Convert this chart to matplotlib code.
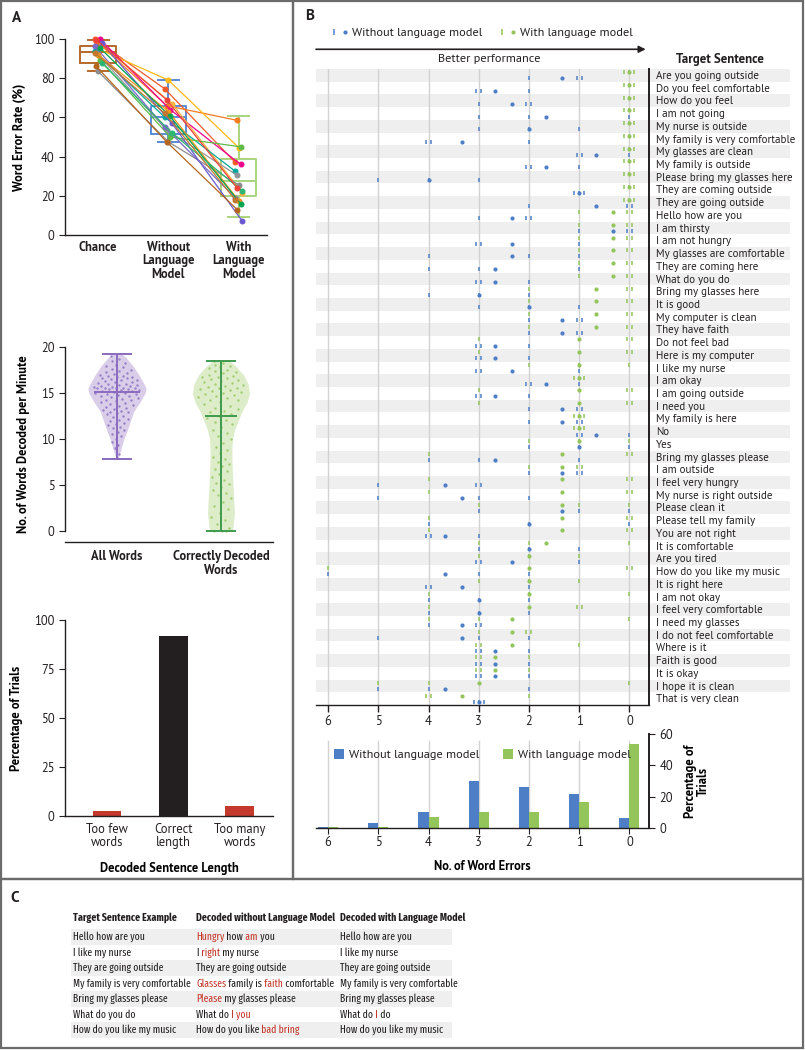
import numpy as np
import matplotlib
matplotlib.use('Agg')
import matplotlib.pyplot as plt
import matplotlib.transforms as mtransforms
from matplotlib.patches import Rectangle
from matplotlib.lines import Line2D
from matplotlib.legend_handler import HandlerTuple

SANS = ['PT Sans', 'Lato', 'DejaVu Sans']
NARROW = ['Fira Sans Extra Condensed', 'PT Sans Narrow', 'Roboto Condensed', 'DejaVu Sans']
plt.rcParams['font.family'] = SANS
plt.rcParams['font.size'] = 8.5
plt.rcParams['axes.linewidth'] = 1.0
plt.rcParams['axes.edgecolor'] = '#231f20'
plt.rcParams['xtick.color'] = '#231f20'
plt.rcParams['ytick.color'] = '#231f20'
plt.rcParams['text.color'] = '#231f20'

# ---------------- data ----------------
# Panel A, top: word error rate per participant session
wer_cats = ['Chance', 'Without\nLanguage\nModel', 'With\nLanguage\nModel']
wer_chance = [100, 99, 95, 100, 97, 94, 93, 83.5, 89.5, 98, 96.5, 86, 92, 95.5, 88, 93, 99.5]
wer_nolm = [74.5, 66, 79, 64, 67, 60, 53.5, 47.5, 50, 57, 55, 47.5, 63, 60.5, 52, 62, 69]
wer_lm = [37, 58.5, 44.5, 36, 21.5, 32.5, 30.5, 25.5, 45, 7, 19, 13, 17.5, 16, 22.5, 18, 24]
box_q1 = [87.7, 51.6, 20.1]
box_med = [93.2, 60.1, 27.6]
box_q3 = [96.2, 65.9, 38.7]
box_lo = [83.6, 47.5, 9.0]
box_hi = [99.5, 79.2, 60.5]

# Panel A, middle: decoding rate (words per minute)
rate_cats = ['All Words', 'Correctly Decoded\nWords']
rate_all = [19.0, 18.7, 18.5, 18.3, 18.1, 17.9, 17.8, 17.6, 17.5, 17.4, 17.3, 17.2, 17.1, 17.0,
            16.9, 16.9, 16.8, 16.7, 16.6, 16.6, 16.5, 16.4, 16.4, 16.3, 16.2, 16.2, 16.1, 16.0,
            16.0, 15.9, 15.9, 15.8, 15.8, 15.7, 15.7, 15.6, 15.6, 15.5, 15.5, 15.5, 15.4, 15.4,
            15.3, 15.3, 15.2, 15.2, 15.1, 15.0, 15.0, 14.9, 14.9, 14.8, 14.7, 14.7, 14.6, 14.5,
            14.4, 14.3, 14.2, 14.1, 14.0, 13.9, 13.8, 13.7, 13.6, 13.5, 13.4, 13.3, 13.2, 13.1,
            13.0, 12.9, 12.8, 12.7, 12.5, 12.4, 12.2, 12.1, 12.0, 11.8, 11.7, 11.5, 11.3, 11.2,
            11.0, 10.8, 10.6, 10.3, 10.0, 9.7, 9.4, 9.0, 8.4, 8.0]
rate_correct = [18.5, 18.3, 18.1, 17.9, 17.8, 17.7, 17.5, 17.4, 17.3, 17.2, 17.0, 16.9, 16.8,
                16.7, 16.6, 16.5, 16.4, 16.3, 16.2, 16.1, 16.0, 15.9, 15.8, 15.7, 15.6, 15.5,
                15.4, 15.3, 15.2, 15.1, 15.0, 14.9, 14.8, 14.7, 14.6, 14.5, 14.3, 14.2, 14.0,
                13.8, 13.6, 13.4, 13.3, 13.1, 12.9, 12.7, 12.5, 12.3, 12.1, 11.9, 11.6, 11.3,
                11.0, 10.7, 10.4, 10.0, 9.6, 9.2, 8.8, 8.5, 8.1, 7.8, 7.5, 7.3, 7.1, 6.8, 6.5,
                6.2, 5.9, 5.6, 5.3, 5.1, 4.8, 4.5, 4.2, 4.0, 3.6, 3.2, 2.8, 2.4, 2.0, 1.6, 1.2,
                0.8, 0.4, 0.0, 0.0, 0.0]
rate_summary = [(7.9, 15.1, 19.2), (0.0, 12.5, 18.5)]  # min, centre line, max
# violin outlines: level, half-width
viol_all_y = [7.9, 9, 10, 11, 12, 13, 14, 15, 15.5, 16, 17, 18, 18.8, 19.3]
viol_all_w = [0.01, 0.04, 0.065, 0.10, 0.13, 0.16, 0.22, 0.27, 0.28, 0.26, 0.21, 0.15, 0.09, 0.04]
viol_cor_y = [0, 1, 2, 4, 6, 8, 9, 10, 11, 12, 13, 14, 15, 16, 17, 18, 18.6]
viol_cor_w = [0.11, 0.12, 0.13, 0.12, 0.11, 0.105, 0.105, 0.11, 0.13, 0.165, 0.2, 0.25, 0.275,
              0.26, 0.215, 0.135, 0.07]

# Panel A, bottom: decoded sentence length
len_cats = ['Too few\nwords', 'Correct\nlength', 'Too many\nwords']
len_pct = [2.5, 91.8, 5.3]

# Panel B: word errors per trial for each target sentence
sentences = ['Are you going outside', 'Do you feel comfortable', 'How do you feel',
             'I am not going', 'My nurse is outside', 'My family is very comfortable',
             'My glasses are clean', 'My family is outside', 'Please bring my glasses here',
             'They are coming outside', 'They are going outside', 'Hello how are you',
             'I am thirsty', 'I am not hungry', 'My glasses are comfortable',
             'They are coming here', 'What do you do', 'Bring my glasses here', 'It is good',
             'My computer is clean', 'They have faith', 'Do not feel bad',
             'Here is my computer', 'I like my nurse', 'I am okay', 'I am going outside',
             'I need you', 'My family is here', 'No', 'Yes', 'Bring my glasses please',
             'I am outside', 'I feel very hungry', 'My nurse is right outside',
             'Please clean it', 'Please tell my family', 'You are not right',
             'It is comfortable', 'Are you tired', 'How do you like my music',
             'It is right here', 'I am not okay', 'I feel very comfortable',
             'I need my glasses', 'I do not feel comfortable', 'Where is it', 'Faith is good',
             'It is okay', 'I hope it is clean', 'That is very clean']
errors_nolm = [[2, 1, 1], [3, 3, 2], [3, 2, 2], [3, 2, 0], [3, 2, 1], [4, 4, 2], [1, 1, 0],
               [2, 2, 1], [5, 4, 3], [1, 1, 1], [2, 0, 0], [3, 2, 2], [1, 0, 0], [3, 3, 1],
               [4, 2, 1], [4, 3, 1], [3, 3, 2], [4, 3, 2], [3, 2, 1], [2, 1, 1], [2, 1, 1],
               [3, 3, 2], [3, 3, 2], [3, 3, 1], [2, 2, 1], [3, 3, 2], [2, 1, 1], [2, 1, 1],
               [1, 1, 0], [2, 1, 0], [4, 3, 1], [2, 1, 1], [5, 3, 3], [5, 3, 2], [3, 1, 0],
               [4, 2, 0], [4, 4, 3], [3, 2, 1], [3, 3, 1], [6, 3, 2], [4, 4, 2], [4, 3, 2],
               [4, 3, 2], [4, 3, 3], [5, 3, 2], [3, 3, 2], [3, 3, 2], [3, 3, 2], [5, 4, 2],
               [3, 3, 3]]
errors_lm = [[0, 0, 0], [0, 0, 0], [0, 0, 0], [0, 0, 0], [0, 0, 0], [0, 0, 0], [0, 0, 0],
             [0, 0, 0], [0, 0, 0], [0, 0, 0], [0, 0, 0], [1, 0, 0], [1, 0, 0], [1, 0, 0],
             [1, 0, 0], [1, 0, 0], [1, 0, 0], [2, 0, 0], [2, 0, 0], [2, 0, 0], [2, 0, 0],
             [3, 0, 0], [3, 0, 0], [2, 1, 0], [1, 1, 1], [3, 0, 0], [3, 0, 0], [1, 1, 1],
             [1, 1, 1], [2, 1, 0], [4, 0, 0], [2, 1, 1], [4, 0, 0], [4, 0, 0], [3, 1, 0],
             [4, 0, 0], [4, 0, 0], [3, 2, 0], [3, 2, 1], [6, 0, 0], [3, 2, 1], [4, 2, 0],
             [4, 1, 1], [4, 3, 0], [3, 2, 2], [3, 3, 1], [3, 3, 2], [3, 3, 2], [5, 4, 0],
             [4, 4, 2]]

# Panel B, bottom: distribution of word errors
n_errors = [6, 5, 4, 3, 2, 1, 0]
pct_nolm = [0.4, 3.2, 10.4, 30.3, 25.9, 21.8, 6.4]
pct_lm = [0.4, 0.4, 7.2, 10.4, 10.4, 16.5, 53.4]

# Panel C: examples
col_titles = ['Target Sentence Example', 'Decoded without Language Model',
              'Decoded with Language Model']
ex_target = ['Hello how are you', 'I like my nurse', 'They are going outside',
             'My family is very comfortable', 'Bring my glasses please', 'What do you do',
             'How do you like my music']
ex_nolm = ['Hungry how am you', 'I right my nurse', 'They are going outside',
           'Glasses family is faith comfortable', 'Please my glasses please', 'What do I you',
           'How do you like bad bring']
ex_nolm_wrong = [[0, 2], [1], [], [0, 3], [0], [2, 3], [4, 5]]
ex_lm = ['Hello how are you', 'I like my nurse', 'They are going outside',
         'My family is very comfortable', 'Bring my glasses please', 'What do I do',
         'How do you like my music']
ex_lm_wrong = [[], [], [], [], [], [2], []]

# ---------------- style ----------------
BLUE = '#4e7fc6'
GREEN = '#93c55b'
PURPLE = '#8a6bbf'
DKGREEN = '#3e9b4f'
RED = '#c4392b'
BLACK = '#231f20'
SHADE = '#efefef'
GRID = '#d2d2d2'
part_colors = ['#f15a29', '#f47b20', '#fdb913', '#ec008c', '#fbb040', '#00a99d', '#939598',
               '#8c8c8c', '#5dbb46', '#6a5acd', '#7b68c8', '#b5651d', '#f7941d', '#00a651',
               '#2bb673', '#c2782d', '#ef4136']
box_colors = ['#b5682b', '#5a8bd5', '#a9d47d']

W, H = 805, 1050


def rect(l, t, r, b):
    return [l / W, 1 - b / H, (r - l) / W, (b - t) / H]


def clean(ax, keep=('left', 'bottom')):
    for s in ['left', 'right', 'top', 'bottom']:
        ax.spines[s].set_visible(s in keep)


fig = plt.figure(figsize=(W / 100, H / 100), dpi=100)

for (l, t, r, b) in [(1, 1, 293, 879), (293, 1, 803, 879), (1, 879, 803, 1048)]:
    fig.add_artist(Rectangle((l / W, 1 - b / H), (r - l) / W, (b - t) / H,
                             transform=fig.transFigure, fill=False,
                             edgecolor='#6b6b6b', lw=1.6))
fig.text(12 / W, 1 - 18 / H, 'A', fontsize=11, fontweight='bold', va='center')
fig.text(305 / W, 1 - 16 / H, 'B', fontsize=11, fontweight='bold', va='center')
fig.text(10 / W, 1 - 898 / H, 'C', fontsize=11, fontweight='bold', va='center')

# ---------------- Panel A top ----------------
ax1 = fig.add_axes(rect(65, 39, 267, 235))
stats = [dict(med=m, q1=a, q3=b, whislo=lo, whishi=hi, fliers=[])
         for a, m, b, lo, hi in zip(box_q1, box_med, box_q3, box_lo, box_hi)]
bp = ax1.bxp(stats, positions=[0, 1, 2], widths=0.5, capwidths=0.3, showfliers=False)
for i, c in enumerate(box_colors):
    for art in [bp['boxes'][i], bp['medians'][i], bp['whiskers'][2 * i],
                bp['whiskers'][2 * i + 1], bp['caps'][2 * i], bp['caps'][2 * i + 1]]:
        art.set_color(c)
        art.set_linewidth(1.4)
        art.set_zorder(1)
for k, (a, b, c) in enumerate(zip(wer_chance, wer_nolm, wer_lm)):
    dx = ((k % 5) - 2) * 0.025
    ax1.plot(np.arange(3) + dx, [a, b, c], '-o', color=part_colors[k], lw=0.9, ms=3.3,
             clip_on=False, zorder=3)
ax1.set_xlim(-0.47, 2.4)
ax1.set_ylim(0, 100)
ax1.set_yticks(range(0, 101, 20))
ax1.set_xticks(range(3))
ax1.set_xticklabels(wer_cats, fontweight='bold', fontsize=9, linespacing=1.05)
ax1.tick_params(axis='x', length=0, pad=4)
ax1.tick_params(axis='y', length=4, labelsize=9)
ax1.set_ylabel('Word Error Rate (%)', fontweight='bold', fontsize=9, labelpad=6)
clean(ax1)

# ---------------- Panel A middle ----------------
ax2 = fig.add_axes(rect(65, 347, 273, 542))
golden = 0.6180339887
for pos, vals, vy, vw, fc, lc, dc, summ in [
        (0, rate_all, viol_all_y, viol_all_w, '#d9cdea', PURPLE, PURPLE, rate_summary[0]),
        (1, rate_correct, viol_cor_y, viol_cor_w, '#ddecc9', DKGREEN, GREEN, rate_summary[1])]:
    vy = np.array(vy)
    vw = np.array(vw)
    ax2.fill_betweenx(vy, pos - vw, pos + vw, color=fc, lw=0, zorder=1)
    vals = np.array(vals)
    frac = (np.arange(len(vals)) * golden) % 1.0
    xs = pos + (frac - 0.5) * 1.7 * np.interp(vals, vy, vw)
    ax2.scatter(xs, vals, s=3, color=dc, alpha=0.8, lw=0, zorder=2)
    lo, mid, hi = summ
    ax2.vlines(pos, lo, hi, color=lc, lw=1.4, zorder=3)
    ax2.hlines([lo, hi], pos - 0.14, pos + 0.14, color=lc, lw=1.4, zorder=3)
    ax2.hlines(mid, pos - (0.22 if pos == 0 else 0.15), pos + (0.22 if pos == 0 else 0.15),
               color=lc, lw=1.4, zorder=3)
ax2.set_xlim(-0.5, 1.5)
ax2.set_ylim(-1.15, 20)
ax2.spines['left'].set_bounds(0, 20)
ax2.set_yticks(range(0, 21, 5))
ax2.set_xticks([0, 1])
ax2.set_xticklabels(rate_cats, fontweight='bold', fontsize=9, linespacing=1.05)
ax2.tick_params(axis='x', length=0, pad=6)
ax2.tick_params(axis='y', length=4, labelsize=9)
ax2.set_ylabel('No. of Words Decoded per Minute', fontweight='bold', fontsize=9, labelpad=8)
clean(ax2)

# ---------------- Panel A bottom ----------------
ax3 = fig.add_axes(rect(65, 620, 273, 816))
ax3.bar(range(3), len_pct, width=0.43, color=[RED, BLACK, RED])
ax3.set_xlim(-0.63, 2.5)
ax3.set_ylim(0, 100)
ax3.set_yticks(range(0, 101, 25))
ax3.set_xticks(range(3))
ax3.set_xticklabels(len_cats, fontsize=9, linespacing=1.05)
ax3.tick_params(axis='x', length=0, pad=5)
ax3.tick_params(axis='y', length=4, labelsize=9)
ax3.set_ylabel('Percentage of Trials', fontweight='bold', fontsize=9, labelpad=8)
ax3.set_xlabel('Decoded Sentence Length', fontweight='bold', fontsize=9, labelpad=9)
clean(ax3)

# ---------------- Panel B scatter ----------------
axb = fig.add_axes(rect(316, 69, 649, 705))
nrow = len(sentences)
axb.set_xlim(6.24, -0.39)
axb.set_ylim(nrow - 0.5, -0.5)
trans = mtransforms.blended_transform_factory(axb.transAxes, axb.transData)
for i, s in enumerate(sentences):
    if i % 2 == 0:
        axb.add_patch(Rectangle((0, i - 0.5), 1.423, 1, transform=trans, facecolor=SHADE,
                                edgecolor='none', zorder=0, clip_on=False))
    axb.text(1.02, i + 0.05, s, transform=trans, va='center', ha='left', fontsize=7.9)
for v in n_errors:
    axb.axvline(v, color=GRID, lw=1.0, zorder=1)


def draw_trials(ax, trials, off, color):
    for i, vals in enumerate(trials):
        for v in sorted(set(vals)):
            n = vals.count(v)
            xs = v + (np.arange(n) - (n - 1) / 2) * 0.1
            ax.plot(xs, [i + off] * n, ls='none', marker='|', ms=3.2, mew=1.1, color=color,
                    zorder=3)
        ax.plot(np.mean(vals), i + off, ls='none', marker='o', ms=3.0, mec='none',
                color=color, zorder=4)


draw_trials(axb, errors_lm, -0.24, GREEN)
draw_trials(axb, errors_nolm, 0.24, BLUE)
axb.set_xticks(n_errors)
axb.set_yticks([])
axb.tick_params(axis='x', length=5, width=1.0, labelsize=9, pad=2)
clean(axb, keep=('right', 'bottom'))
axb.spines['right'].set_linewidth(1.4)

h_nolm = (Line2D([], [], ls='none', marker='|', ms=5, mew=1.1, color=BLUE),
          Line2D([], [], ls='none', marker='o', ms=3, mec='none', color=BLUE))
h_lm = (Line2D([], [], ls='none', marker='|', ms=5, mew=1.1, color=GREEN),
        Line2D([], [], ls='none', marker='o', ms=3, mec='none', color=GREEN))
axb.legend([h_nolm, h_lm], ['Without language model', 'With language model'],
           handler_map={tuple: HandlerTuple(ndivide=None, pad=0.6)}, ncol=2, frameon=False,
           loc='center', bbox_to_anchor=(0.5, 1.057), fontsize=8.8, handlelength=1.2,
           handletextpad=0.4, columnspacing=1.5)
axb.annotate('', xy=(0.99, 1.031), xytext=(0.0, 1.031), xycoords='axes fraction',
             arrowprops=dict(arrowstyle='-|>', color=BLACK, lw=1.2, shrinkA=0, shrinkB=0,
                             mutation_scale=10))
axb.text(0.52, 1.015, 'Better performance', transform=axb.transAxes, ha='center',
         va='center', fontsize=8.8)
axb.text(1.213, 1.015, 'Target Sentence', transform=axb.transAxes, ha='center',
         va='center', fontsize=9.3, fontweight='bold')

# ---------------- Panel B histogram ----------------
axh = fig.add_axes(rect(316, 734, 649, 828))
for v in n_errors:
    axh.axvline(v, ymax=0.93, color=GRID, lw=1.0, zorder=0)
axh.bar(np.array(n_errors) + 0.1, pct_nolm, width=0.2, color=BLUE, zorder=2,
        label='Without language model')
axh.bar(np.array(n_errors) - 0.1, pct_lm, width=0.2, color=GREEN, zorder=2,
        label='With language model')
axh.set_xlim(6.24, -0.39)
axh.set_ylim(0, 60)
axh.set_xticks(n_errors)
axh.set_yticks(range(0, 61, 20))
axh.yaxis.tick_right()
axh.yaxis.set_label_position('right')
axh.tick_params(axis='x', length=4, labelsize=9, pad=2)
axh.tick_params(axis='y', length=4, labelsize=9)
axh.set_ylabel('Percentage of\nTrials', fontweight='bold', fontsize=9, rotation=90,
               labelpad=8, linespacing=1.0)
axh.set_xlabel('No. of Word Errors', fontweight='bold', fontsize=9, labelpad=8)
axh.legend(ncol=2, frameon=False, loc='center', bbox_to_anchor=(0.5, 0.78), fontsize=8.8,
           handlelength=0.8, handleheight=0.8, handletextpad=0.4, columnspacing=2.0)
clean(axh, keep=('right', 'bottom'))
axh.spines['right'].set_linewidth(1.4)

# ---------------- Panel C table ----------------
axc = fig.add_axes([0, 0, 1, 1], zorder=-1)
axc.set_xlim(0, W)
axc.set_ylim(H, 0)
axc.axis('off')
col_x = [73, 196, 340]
row_y = [937, 952.5, 968, 983.5, 999, 1014.5, 1030]
for j, t in enumerate(col_titles):
    axc.text(col_x[j], 918, t, family=NARROW, fontsize=7.7, fontweight='bold', va='center')
for i, y in enumerate(row_y):
    if i % 2 == 0:
        axc.add_patch(Rectangle((71, y - 7.7), 381, 15.4, facecolor=SHADE, edgecolor='none'))


def chained(ax, x, y, sentence, wrong):
    segs = []
    for k, w in enumerate(sentence.split()):
        bad = k in wrong
        if segs and segs[-1][1] == bad:
            segs[-1][0] += ' ' + w
        else:
            segs.append([(' ' if segs else '') + w, bad])
    prev = None
    for txt, bad in segs:
        kw = dict(family=NARROW, fontsize=7.6, color=RED if bad else BLACK)
        if prev is None:
            prev = ax.text(x, y, txt, va='center', ha='left', **kw)
        else:
            prev = ax.annotate(txt, xy=(1, 0), xycoords=prev, va='bottom', ha='left', **kw)


for i, y in enumerate(row_y):
    chained(axc, col_x[0], y, ex_target[i], [])
    chained(axc, col_x[1], y, ex_nolm[i], ex_nolm_wrong[i])
    chained(axc, col_x[2], y, ex_lm[i], ex_lm_wrong[i])

fig.savefig('out.png', dpi=100)
